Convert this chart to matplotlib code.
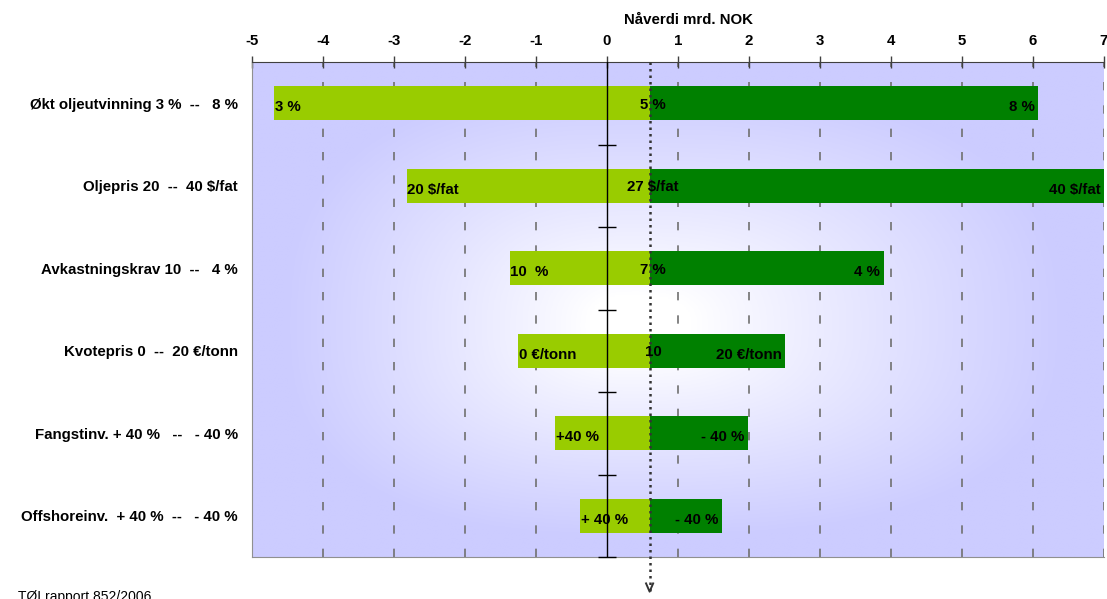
import numpy as np
import matplotlib.pyplot as plt
from matplotlib.colors import LinearSegmentedColormap

plt.rcParams['font.family'] = ['Liberation Sans', 'DejaVu Sans']

# --- data (mrd. NOK) ---
categories = [
    "Økt oljeutvinning 3 %  --   8 %",
    "Oljepris 20  --  40 $/fat",
    "Avkastningskrav 10  --   4 %",
    "Kvotepris 0  --  20 €/tonn",
    "Fangstinv. + 40 %   --   - 40 %",
    "Offshoreinv.  + 40 %  --   - 40 %",
]
base_value = 0.6
low_values = [-4.69, -2.82, -1.37, -1.25, -0.73, -0.38]
high_values = [6.07, 7.3, 3.90, 2.51, 1.99, 1.62]
low_labels = ["3 %", "20 $/fat", "10  %", "0 €/tonn", "+40 %", "+ 40 %"]
mid_labels = ["5 %", "27 $/fat", "7 %", "10", "", ""]
high_labels = ["8 %", "40 $/fat", "4 %", "20 €/tonn", "- 40 %", "- 40 %"]
xticks = [-5, -4, -3, -2, -1, 0, 1, 2, 3, 4, 5, 6, 7]

light_green = "#99CC00"
dark_green = "#008000"

fig = plt.figure(figsize=(11.07, 5.99), dpi=100)
ax = fig.add_axes([252 / 1107, 1 - 557 / 599, 852 / 1107, 495 / 599])

xmin, xmax = -5, 7
n = len(categories)
ax.set_xlim(xmin, xmax)
ax.set_ylim(n, 0)

# background gradient: blue at the edges, white core slightly left of centre
gx = np.linspace(xmin, xmax, 480)
gy = np.linspace(0, n, 300)
GX, GY = np.meshgrid(gx, gy)
cx, cy = 0.4, 3.2
U = np.where(GX < cx, (cx - GX) / (cx - xmin), (GX - cx) / (xmax - cx))
V = np.where(GY < cy, (cy - GY) / cy, (GY - cy) / (n - cy))
p = 2.6
t = (U ** p + V ** p) ** (1 / p)
t = np.clip((t - 0.12) / 0.8, 0, 1) ** 0.9
cmap = LinearSegmentedColormap.from_list("bg", ["#FFFFFF", "#CCCCFF"])
ax.imshow(t, cmap=cmap, extent=[xmin, xmax, n, 0], aspect="auto",
          zorder=0, interpolation="bilinear", vmin=0, vmax=1)

# dashed gridlines
for x in xticks[1:]:
    if x == 0:
        continue
    ax.axvline(x, color="#707070", lw=1.2, ls=(0, (5, 9)), zorder=1)

y = np.arange(n) + 0.5
h = 0.41
low = np.array(low_values)
high = np.array(high_values)
ax.barh(y, base_value - low, left=low, height=h, color=light_green, zorder=2)
ax.barh(y, high - base_value, left=base_value, height=h, color=dark_green, zorder=2)

# zero line with small row ticks
ax.axvline(0, color="black", lw=1, zorder=3)
ax.plot([0] * n, np.arange(1, n + 1), ls="none", marker="_", ms=13,
        mew=1, color="black", zorder=3, clip_on=False)

# baseline dotted line running below the axes, with an open "v" head
tip = n + 0.42
ax.plot([base_value, base_value], [0, tip], ls=(0, (1, 1.6)), lw=1.8,
        color="#333333", zorder=4, clip_on=False)
ax.plot([base_value - 0.05, base_value, base_value + 0.05],
        [tip - 0.1, tip, tip - 0.1], lw=1.4, color="#333333",
        zorder=4, clip_on=False)

# bar labels
fs = 10.8
for i in range(n):
    yy = y[i] + 0.05
    ax.text(low[i] + 0.01, yy, low_labels[i], ha="left", va="center",
            fontsize=fs, fontweight="bold", zorder=5)
    ax.text(min(high[i], xmax) - 0.05, yy, high_labels[i], ha="right",
            va="center", fontsize=fs, fontweight="bold", zorder=5)
    if mid_labels[i]:
        ax.text(base_value + 0.05, yy - 0.03, mid_labels[i], ha="center",
                va="center", fontsize=fs, fontweight="bold", zorder=5)

# category labels
ax.set_yticks(y)
ax.set_yticklabels(categories, fontsize=fs, fontweight="bold")
ax.tick_params(axis="y", length=0, pad=10)

# top axis
ax.xaxis.tick_top()
ax.set_xticks(xticks)
ax.set_xticklabels([str(v) for v in xticks], fontsize=fs, fontweight="bold")
ax.tick_params(axis="x", direction="inout", length=8, width=1,
               color="#404040", pad=6)

fig.text(688 / 1107, 1 - 20 / 599, "Nåverdi mrd. NOK", fontsize=fs,
         fontweight="bold", ha="center", va="center")

for side in ["left", "bottom", "right"]:
    ax.spines[side].set_color("#909090")
ax.spines["top"].set_color("#404040")
ax.spines["right"].set_visible(False)

fig.text(18 / 1107, 1 - 590 / 599, "TØI rapport 852/2006", fontsize=10,
         ha="left", va="top")

fig.savefig("out.png", dpi=100)
